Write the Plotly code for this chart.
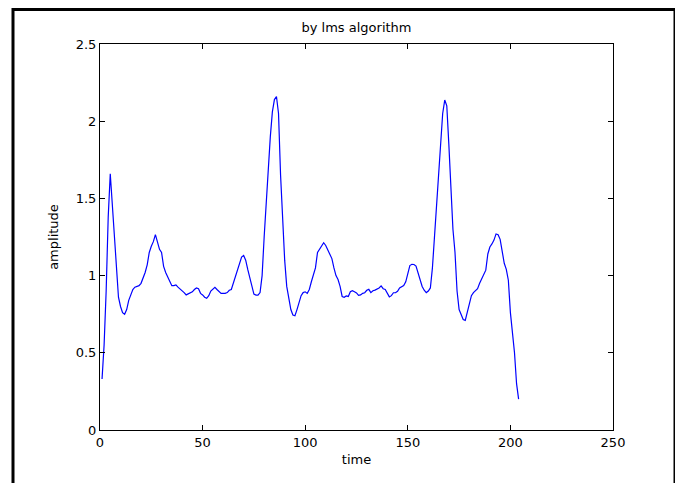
import plotly.graph_objects as go

# filtered signal, sample index 1..204
amplitude = [
    0.33, 0.55, 0.90, 1.38, 1.66, 1.45, 1.22, 1.00, 0.86, 0.80,
    0.76, 0.75, 0.78, 0.84, 0.88, 0.91, 0.925, 0.93, 0.935, 0.95,
    0.98, 1.02, 1.07, 1.15, 1.19, 1.22, 1.265, 1.22, 1.17, 1.15,
    1.06, 1.02, 0.99, 0.965, 0.935, 0.935, 0.94, 0.925, 0.915, 0.90,
    0.89, 0.875, 0.88, 0.885, 0.895, 0.91, 0.92, 0.915, 0.885, 0.875,
    0.86, 0.853, 0.87, 0.90, 0.915, 0.924, 0.91, 0.895, 0.885, 0.885,
    0.885, 0.89, 0.905, 0.91, 0.95, 0.985, 1.025, 1.07, 1.12, 1.13,
    1.10, 1.04, 0.985, 0.935, 0.88, 0.874, 0.874, 0.89, 1.00, 1.25,
    1.48, 1.70, 1.90, 2.06, 2.14, 2.16, 2.05, 1.65, 1.38, 1.10,
    0.93, 0.84, 0.78, 0.745, 0.74, 0.78, 0.83, 0.87, 0.89, 0.895,
    0.885, 0.91, 0.96, 1.00, 1.05, 1.15, 1.17, 1.19, 1.213, 1.195,
    1.17, 1.145, 1.11, 1.05, 1.00, 0.975, 0.93, 0.865, 0.86, 0.868,
    0.865, 0.896, 0.902, 0.895, 0.888, 0.872, 0.875, 0.885, 0.889, 0.905,
    0.911, 0.89, 0.902, 0.906, 0.911, 0.92, 0.933, 0.915, 0.91, 0.88,
    0.862, 0.87, 0.889, 0.889, 0.898, 0.92, 0.93, 0.935, 0.96, 1.02,
    1.065, 1.073, 1.072, 1.062, 1.02, 0.965, 0.93, 0.905, 0.89, 0.90,
    0.92, 1.05, 1.25, 1.45, 1.65, 1.90, 2.05, 2.137, 2.10, 1.85,
    1.55, 1.30, 1.15, 0.90, 0.78, 0.74, 0.715, 0.71, 0.77, 0.83,
    0.87, 0.89, 0.905, 0.915, 0.95, 0.98, 1.015, 1.035, 1.14, 1.185,
    1.205, 1.23, 1.27, 1.265, 1.235, 1.15, 1.08, 1.04, 0.97, 0.76,
    0.64, 0.50, 0.30, 0.20,
]
time = list(range(1, len(amplitude) + 1))

x_ticks = [0, 50, 100, 150, 200, 250]
y_ticks = [0, 0.5, 1, 1.5, 2, 2.5]
y_tick_text = ["0", "0.5", "1", "1.5", "2", "2.5"]

font = dict(family="DejaVu Sans, sans-serif", size=13, color="black")

fig = go.Figure(go.Scatter(x=time, y=amplitude, mode="lines",
                           line=dict(color="#0000ff", width=1.2)))

axis_style = dict(showgrid=False, zeroline=False, showline=True, linecolor="black",
                  linewidth=1, mirror="ticks", ticks="inside", ticklen=5,
                  tickcolor="black", tickwidth=1, tickfont=font)

fig.update_xaxes(range=[0, 250], tickvals=x_ticks, **axis_style,
                 title=dict(text="time", font=font, standoff=6))
fig.update_yaxes(range=[0, 2.5], tickvals=y_ticks, ticktext=y_tick_text, **axis_style,
                 title=dict(text="amplitude", font=font, standoff=14))

# the page body adds an 8px offset, so margins are shifted accordingly
fig.update_layout(
    width=683, height=483,
    margin=dict(l=92, r=78, t=36, b=61),
    paper_bgcolor="white", plot_bgcolor="white",
    showlegend=False,
    font=font,
    title=dict(text="by lms algorithm", font=font,
               x=0.5, xanchor="center", y=1 - 19 / 483, yanchor="middle", xref="paper"),
    shapes=[dict(type="rect", xref="paper", yref="paper",
                 x0=-87 / 513, x1=575 / 513, y0=-0.2, y1=420.5 / 386,
                 line=dict(color="black", width=3), fillcolor="rgba(0,0,0,0)")],
)

fig.write_html("out.html")
